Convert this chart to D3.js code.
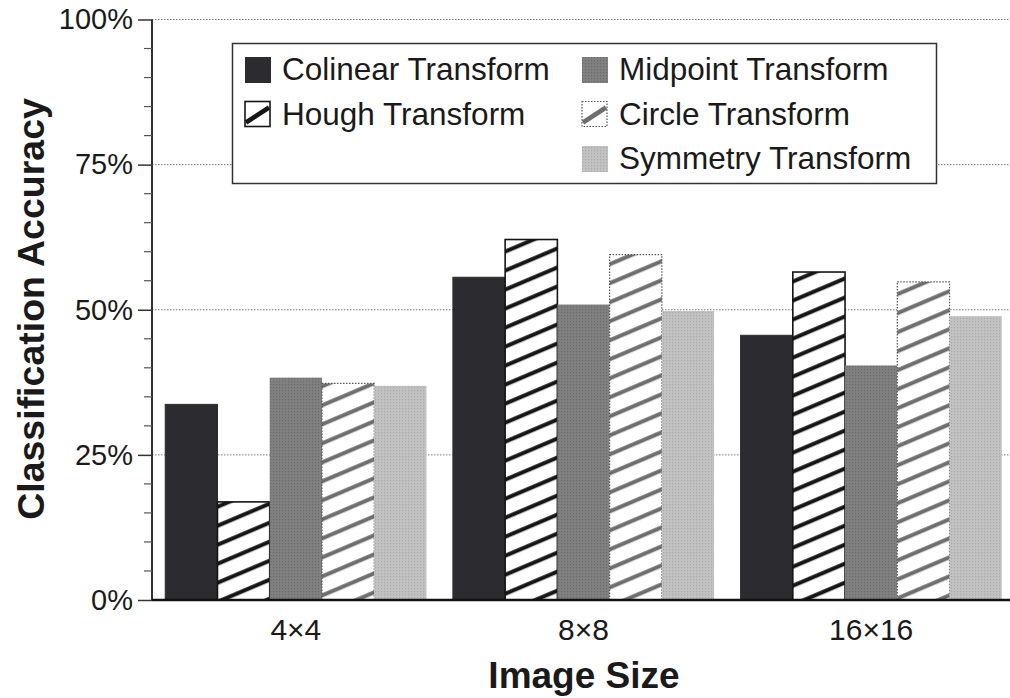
<!DOCTYPE html>
<html>
<head>
<meta charset="utf-8">
<script src="https://cdn.jsdelivr.net/npm/d3@7"></script>
<style>
  html, body { margin: 0; padding: 0; background: #fff; }
  svg { display: block; }
  text { font-family: "Liberation Sans", Arial, Helvetica, sans-serif; fill: #1a1a1a; }
</style>
</head>
<body>
<svg id="chart" width="1010" height="698"></svg>
<script>
// ---- data ----
const categories = ["4×4", "8×8", "16×16"];
const seriesNames = ["Colinear Transform", "Hough Transform", "Midpoint Transform", "Circle Transform", "Symmetry Transform"];
const colinear = [33.7, 55.6, 45.6];
const hough    = [16.9, 62.1, 56.5];
const midpoint = [38.3, 50.9, 40.4];
const circle   = [37.3, 59.5, 54.8];
const symmetry = [36.9, 49.8, 48.9];
const yTicks = [0, 25, 50, 75, 100];
const yMinorTicks = [5,10,15,20,30,35,40,45,55,60,65,70,80,85,90,95];
const legendOrder = ["Colinear Transform", "Midpoint Transform", "Hough Transform", "Circle Transform", "Symmetry Transform"];
const legendColumn = [0, 1, 0, 1, 1];
const legendRow = [0, 0, 1, 1, 2];

const seriesValues = [colinear, hough, midpoint, circle, symmetry];

const svg = d3.select("#chart");
const defs = svg.append("defs");

// hatch patterns
function hatch(id, color, w) {
  const p = defs.append("pattern")
    .attr("id", id).attr("patternUnits", "userSpaceOnUse")
    .attr("width", 40).attr("height", 17.5)
    .attr("patternTransform", "rotate(-23)");
  p.append("rect").attr("width", 40).attr("height", 17.5).attr("fill", "#fff");
  p.append("rect").attr("x", 0).attr("y", 7).attr("width", 40).attr("height", w).attr("fill", color);
}
hatch("hatchBlack", "#151515", 4);
hatch("hatchGray", "#6e6e6e", 4);

// halftone-ish textures
function dots(id, base, dot) {
  const p = defs.append("pattern")
    .attr("id", id).attr("patternUnits", "userSpaceOnUse")
    .attr("width", 3).attr("height", 3);
  p.append("rect").attr("width", 3).attr("height", 3).attr("fill", base);
  p.append("rect").attr("width", 1.2).attr("height", 1.2).attr("fill", dot);
}
dots("dotMid", "#808080", "#6a6a6a");
dots("dotSym", "#c2c2c2", "#aaaaaa");

const styles = {
  "Colinear Transform": { fill: "#2b2b30", stroke: "#2b2b30", dash: null, sw: 1 },
  "Hough Transform":    { fill: "url(#hatchBlack)", stroke: "#151515", dash: null, sw: 1.6 },
  "Midpoint Transform": { fill: "url(#dotMid)", stroke: "none", dash: null, sw: 0 },
  "Circle Transform":   { fill: "url(#hatchGray)", stroke: "#555", dash: "1.5,1.5", sw: 1.2 },
  "Symmetry Transform": { fill: "url(#dotSym)", stroke: "none", dash: null, sw: 0 }
};

// ---- scales ----
const x0 = d3.scaleBand().domain(categories).range([152, 1015]).paddingInner(0.092).paddingOuter(0.046);
const x1 = d3.scaleBand().domain(seriesNames).range([0, x0.bandwidth()]);
const y = d3.scaleLinear().domain([0, 100]).range([600, 19.5]);

// gridlines
svg.append("g").selectAll("line").data(yTicks.filter(d => d > 0)).join("line")
  .attr("x1", 152).attr("x2", 1010)
  .attr("y1", d => y(d)).attr("y2", d => y(d))
  .attr("stroke", "#777").attr("stroke-width", 1).attr("stroke-dasharray", "1.5,1.5");

// bars
const gBars = svg.append("g");
seriesNames.forEach((name, si) => {
  const st = styles[name];
  gBars.append("g").selectAll("rect")
    .data(categories.map((c, i) => ({ c, v: seriesValues[si][i] })))
    .join("rect")
    .attr("x", d => x0(d.c) + x1(name))
    .attr("width", x1.bandwidth())
    .attr("y", d => y(d.v))
    .attr("height", d => y(0) - y(d.v))
    .attr("fill", st.fill)
    .attr("stroke", st.stroke)
    .attr("stroke-width", st.sw)
    .attr("stroke-dasharray", st.dash);
});

// y axis with minor ticks
const yAxis = d3.axisLeft(y).tickValues(yTicks).tickSize(14).tickPadding(5).tickFormat(d => d + "%");
const gy = svg.append("g").attr("transform", "translate(152,0)").call(yAxis);
gy.select(".domain").attr("stroke", "#333").attr("stroke-width", 2).attr("d", `M0,${y(100)}V${y(0)}`);
gy.selectAll(".tick line").attr("stroke", "#333").attr("stroke-width", 1.5);
gy.selectAll(".tick text").attr("font-size", 29).attr("fill", "#1a1a1a")
  .style("font-family", '"Liberation Sans", Arial, sans-serif');
svg.append("g").attr("transform", "translate(152,0)").selectAll("line")
  .data(yMinorTicks).join("line")
  .attr("x1", -8).attr("x2", 0).attr("y1", d => y(d)).attr("y2", d => y(d))
  .attr("stroke", "#555").attr("stroke-width", 1.2);

// x axis
const xAxis = d3.axisBottom(x0).tickSize(0).tickPadding(19);
const gx = svg.append("g").attr("transform", "translate(0,600)").call(xAxis);
gx.select(".domain").attr("stroke", "#111").attr("stroke-width", 2.5).attr("d", "M152,0H1010");
gx.selectAll(".tick text").attr("font-size", 30).attr("fill", "#1a1a1a")
  .style("font-family", '"Liberation Sans", Arial, sans-serif');

// axis titles
svg.append("text").attr("x", 584).attr("y", 688).attr("text-anchor", "middle")
  .attr("font-size", 37).attr("font-weight", "bold").attr("fill", "#262626").text("Image Size");
svg.append("text").attr("transform", "translate(44,309) rotate(-90)").attr("text-anchor", "middle")
  .attr("font-size", 37.5).attr("font-weight", "bold").attr("fill", "#262626").text("Classification Accuracy");

// legend
const lg = svg.append("g");
lg.append("rect").attr("x", 232.5).attr("y", 43.5).attr("width", 704).attr("height", 140)
  .attr("fill", "#fff").attr("stroke", "#333").attr("stroke-width", 1.5);
const colX = [245, 582];
const rowY = [57, 101.5, 146];
legendOrder.forEach((name, i) => {
  const sx = colX[legendColumn[i]], sy = rowY[legendRow[i]];
  const st = styles[name];
  const g = lg.append("g");
  if (name === "Hough Transform" || name === "Circle Transform") {
    g.append("rect").attr("x", sx).attr("y", sy).attr("width", 25).attr("height", 25)
      .attr("fill", "#fff").attr("stroke", st.stroke).attr("stroke-width", st.sw)
      .attr("stroke-dasharray", st.dash);
    g.append("line").attr("x1", sx + 1).attr("y1", sy + 21).attr("x2", sx + 24).attr("y2", sy + 6)
      .attr("stroke", name === "Hough Transform" ? "#151515" : "#6e6e6e").attr("stroke-width", 4.5);
  } else {
    g.append("rect").attr("x", sx).attr("y", sy).attr("width", 26).attr("height", 26).attr("fill", st.fill);
  }
  g.append("text").attr("x", sx + 37).attr("y", sy + 23).attr("font-size", 31.5).attr("fill", "#1a1a1a")
    .text(name);
});
</script>
</body>
</html>
